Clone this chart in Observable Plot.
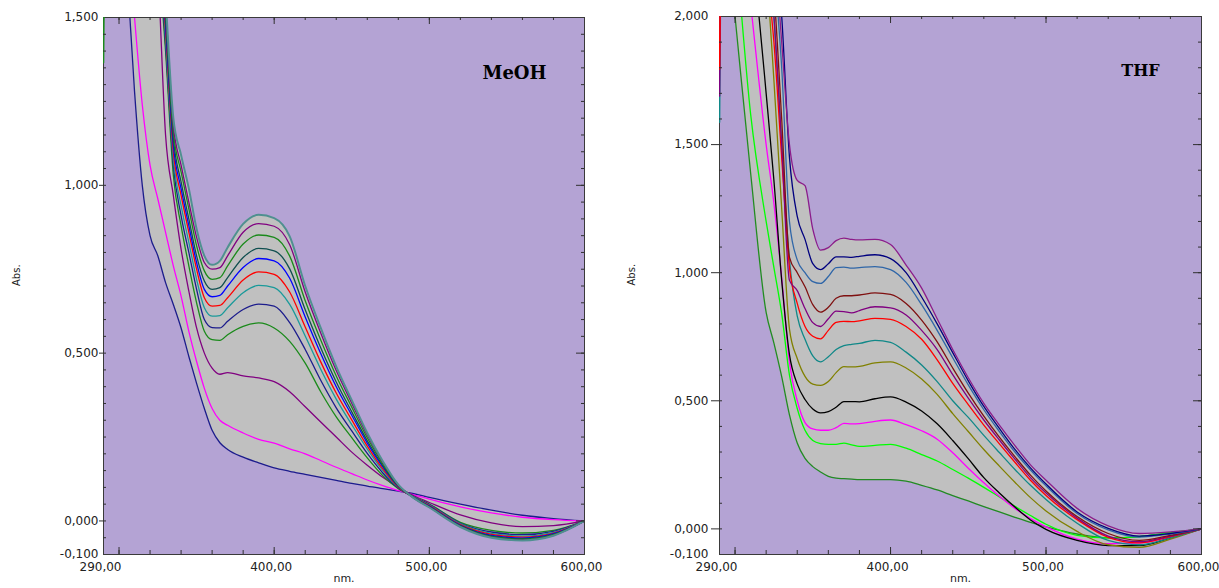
<!DOCTYPE html>
<html><head><meta charset="utf-8">
<script src="https://cdn.jsdelivr.net/npm/d3@7"></script>
<script src="https://cdn.jsdelivr.net/npm/@observablehq/plot@0.6"></script>
<style>
html,body{margin:0;padding:0;background:#fff;}
#wrap{position:relative;width:1219px;height:588px;overflow:hidden;background:#fff;}
#left{position:absolute;left:0;top:0;}
#right{position:absolute;left:609px;top:0;}
</style></head><body>
<div id="wrap"><div id="left"></div><div id="right"></div></div>
<script>
// ---------- MeOH panel data ----------
const wlMeOH = [290, 300, 305, 310, 315, 320, 325, 330, 335, 340, 345, 350, 355, 360, 365, 370, 380, 390, 400, 410, 420, 430, 440, 450, 460, 470, 480, 490, 500, 520, 540, 560, 580, 600];
const meohNavy    = [2.50, 1.95, 1.65, 1.28, 1.00, 0.85, 0.79, 0.71, 0.645, 0.575, 0.49, 0.41, 0.335, 0.27, 0.233, 0.213, 0.19, 0.173, 0.158, 0.148, 0.139, 0.13, 0.121, 0.112, 0.104, 0.096, 0.089, 0.081, 0.07, 0.05, 0.032, 0.017, 0.007, 0.0];
const meohMagenta = [2.9, 2.1, 1.8, 1.5, 1.24, 1.06, 0.96, 0.86, 0.76, 0.67, 0.565, 0.475, 0.395, 0.335, 0.30, 0.285, 0.262, 0.243, 0.232, 0.215, 0.20, 0.18, 0.16, 0.141, 0.122, 0.105, 0.09, 0.078, 0.065, 0.042, 0.024, 0.011, 0.004, 0.0];
const meohPurple  = [3.4, 3.0, 2.7, 2.45, 2.2, 1.95, 1.65, 1.15, 0.97, 0.81, 0.685, 0.575, 0.50, 0.455, 0.437, 0.442, 0.432, 0.426, 0.415, 0.385, 0.34, 0.295, 0.25, 0.205, 0.166, 0.13, 0.1, 0.075, 0.055, 0.018, -0.006, -0.017, -0.014, 0.0];
const meohGreen   = [3.5, 3.1, 2.85, 2.6, 2.3, 2.0, 1.72, 1.40, 1.03, 0.88, 0.76, 0.65, 0.565, 0.54, 0.538, 0.555, 0.58, 0.59, 0.575, 0.535, 0.47, 0.385, 0.31, 0.248, 0.188, 0.135, 0.096, 0.072, 0.05, -0.004, -0.028, -0.036, -0.028, 0.0];
const meohNavy2   = [3.55, 3.15, 2.9, 2.65, 2.35, 2.05, 1.75, 1.42, 1.06, 0.91, 0.80, 0.69, 0.60, 0.576, 0.575, 0.595, 0.63, 0.646, 0.64, 0.591, 0.511, 0.419, 0.337, 0.268, 0.201, 0.143, 0.098, 0.071, 0.049, -0.007, -0.033, -0.041, -0.031, 0.0];
const meohTeal    = [3.6, 3.2, 2.95, 2.7, 2.4, 2.1, 1.78, 1.44, 1.08, 0.94, 0.83, 0.72, 0.635, 0.61, 0.612, 0.635, 0.68, 0.702, 0.695, 0.645, 0.551, 0.452, 0.363, 0.287, 0.214, 0.15, 0.1, 0.071, 0.047, -0.009, -0.037, -0.045, -0.034, 0.0];
const meohRed     = [3.65, 3.25, 3.0, 2.75, 2.45, 2.15, 1.8, 1.46, 1.10, 0.97, 0.86, 0.75, 0.665, 0.64, 0.642, 0.665, 0.718, 0.742, 0.735, 0.682, 0.578, 0.474, 0.381, 0.301, 0.223, 0.155, 0.101, 0.07, 0.046, -0.011, -0.04, -0.048, -0.036, 0.0];
const meohBlue    = [3.7, 3.3, 3.05, 2.8, 2.5, 2.2, 1.83, 1.48, 1.12, 0.99, 0.88, 0.77, 0.69, 0.668, 0.672, 0.70, 0.755, 0.782, 0.775, 0.723, 0.608, 0.499, 0.40, 0.315, 0.232, 0.161, 0.103, 0.07, 0.044, -0.013, -0.043, -0.051, -0.038, 0.0];
const meohSlate   = [3.75, 3.35, 3.1, 2.85, 2.55, 2.25, 1.86, 1.50, 1.14, 1.01, 0.90, 0.79, 0.715, 0.69, 0.695, 0.725, 0.785, 0.812, 0.805, 0.751, 0.629, 0.516, 0.414, 0.325, 0.239, 0.165, 0.104, 0.069, 0.043, -0.014, -0.045, -0.053, -0.04, 0.0];
const meohGreen2  = [3.8, 3.4, 3.15, 2.9, 2.6, 2.3, 1.89, 1.52, 1.16, 1.04, 0.93, 0.82, 0.745, 0.72, 0.725, 0.76, 0.825, 0.852, 0.845, 0.789, 0.656, 0.539, 0.432, 0.339, 0.248, 0.17, 0.106, 0.069, 0.042, -0.016, -0.047, -0.055, -0.041, 0.0];
const meohPurple2 = [3.85, 3.45, 3.2, 2.95, 2.65, 2.35, 1.92, 1.54, 1.18, 1.06, 0.95, 0.845, 0.77, 0.75, 0.755, 0.79, 0.86, 0.886, 0.878, 0.823, 0.682, 0.56, 0.448, 0.351, 0.256, 0.175, 0.107, 0.068, 0.041, -0.017, -0.049, -0.057, -0.043, 0.0];
const meohCadet   = [3.9, 3.5, 3.25, 3.0, 2.7, 2.4, 1.95, 1.56, 1.20, 1.09, 0.99, 0.87, 0.79, 0.763, 0.775, 0.815, 0.885, 0.912, 0.902, 0.848, 0.70, 0.575, 0.46, 0.36, 0.262, 0.178, 0.108, 0.068, 0.04, -0.018, -0.05, -0.058, -0.044, 0.0];
const meohColors  = ["#1c1c8c", "#ff00ff", "#800080", "#1a8a1a", "#1c1c8c", "#1a9a9a", "#ff0000", "#0000ff", "#0f4f4f", "#1a8a1a", "#800080", "#4f9090"];
// short traces stuck on the left edge of the frame
const edgeNm = [290, 291];
const meohEdgeGreen = [1.365, 1.9];

// ---------- THF panel data ----------
const wlTHF = [290, 300, 310, 320, 325, 330, 335, 340, 345, 350, 355, 360, 365, 370, 375, 380, 390, 400, 410, 420, 430, 440, 450, 460, 470, 480, 490, 500, 520, 540, 560, 580, 600];
const thfPurple  = [4.0, 3.7, 3.2, 2.6, 2.3, 1.9, 1.5, 1.36, 1.34, 1.17, 1.088, 1.098, 1.125, 1.135, 1.13, 1.128, 1.13, 1.11, 1.03, 0.94, 0.82, 0.70, 0.59, 0.49, 0.405, 0.325, 0.25, 0.19, 0.08, 0.012, -0.018, -0.012, 0.0];
const thfNavy    = [3.9, 3.6, 3.1, 2.6, 2.3, 2.0, 1.45, 1.22, 1.13, 1.035, 1.012, 1.035, 1.062, 1.062, 1.06, 1.064, 1.07, 1.055, 1.0, 0.905, 0.80, 0.688, 0.578, 0.478, 0.392, 0.31, 0.238, 0.175, 0.066, 0.002, -0.028, -0.018, 0.0];
const thfSteel   = [3.8, 3.5, 3.0, 2.5, 2.2, 1.8, 1.2, 1.05, 1.0, 0.965, 0.958, 0.985, 1.02, 1.022, 1.018, 1.02, 1.024, 1.012, 0.962, 0.875, 0.775, 0.668, 0.562, 0.465, 0.38, 0.3, 0.23, 0.168, 0.06, -0.004, -0.032, -0.02, 0.0];
const thfMaroon  = [3.7, 3.4, 2.9, 2.4, 2.1, 1.6, 1.06, 1.0, 0.945, 0.875, 0.846, 0.865, 0.9, 0.91, 0.91, 0.913, 0.921, 0.915, 0.88, 0.815, 0.73, 0.628, 0.53, 0.44, 0.358, 0.282, 0.21, 0.148, 0.048, -0.018, -0.045, -0.025, 0.0];
const thfPurple2 = [3.65, 3.3, 2.8, 2.3, 2.0, 1.5, 0.97, 0.93, 0.86, 0.805, 0.79, 0.82, 0.85, 0.848, 0.843, 0.852, 0.867, 0.863, 0.835, 0.775, 0.70, 0.602, 0.51, 0.425, 0.347, 0.272, 0.2, 0.14, 0.042, -0.028, -0.05, -0.028, 0.0];
const thfRed     = [3.6, 3.2, 2.7, 2.2, 1.9, 1.45, 1.02, 0.88, 0.79, 0.752, 0.742, 0.775, 0.806, 0.81, 0.809, 0.812, 0.822, 0.818, 0.79, 0.74, 0.66, 0.568, 0.485, 0.405, 0.332, 0.26, 0.19, 0.13, 0.036, -0.033, -0.055, -0.03, 0.0];
const thfTeal    = [3.5, 3.4, 2.9, 2.4, 2.0, 1.5, 1.05, 0.83, 0.74, 0.675, 0.652, 0.672, 0.70, 0.715, 0.72, 0.724, 0.736, 0.728, 0.69, 0.64, 0.575, 0.50, 0.435, 0.365, 0.298, 0.232, 0.17, 0.115, 0.022, -0.045, -0.062, -0.035, 0.0];
const thfOlive   = [3.6, 3.2, 2.7, 2.2, 1.75, 1.25, 0.78, 0.665, 0.595, 0.565, 0.56, 0.575, 0.61, 0.633, 0.632, 0.634, 0.648, 0.652, 0.628, 0.585, 0.525, 0.45, 0.38, 0.31, 0.245, 0.182, 0.122, 0.07, -0.01, -0.062, -0.072, -0.04, 0.0];
const thfBlack   = [3.4, 2.9, 2.35, 1.7, 1.36, 0.97, 0.68, 0.565, 0.505, 0.468, 0.453, 0.458, 0.475, 0.497, 0.497, 0.496, 0.508, 0.515, 0.495, 0.46, 0.41, 0.345, 0.274, 0.2, 0.14, 0.085, 0.035, -0.002, -0.045, -0.065, -0.065, -0.035, 0.0];
const thfMagenta = [3.2, 2.6, 2.05, 1.5, 1.27, 0.98, 0.65, 0.5, 0.415, 0.39, 0.385, 0.385, 0.395, 0.412, 0.41, 0.411, 0.42, 0.425, 0.407, 0.383, 0.35, 0.297, 0.237, 0.18, 0.127, 0.08, 0.04, 0.008, -0.04, -0.058, -0.055, -0.03, 0.0];
const thfLime    = [2.9, 2.3, 1.62, 1.2, 1.02, 0.84, 0.6, 0.47, 0.385, 0.345, 0.333, 0.33, 0.33, 0.335, 0.328, 0.322, 0.326, 0.33, 0.315, 0.29, 0.265, 0.232, 0.198, 0.162, 0.125, 0.088, 0.052, 0.018, -0.025, -0.035, -0.03, -0.015, 0.0];
const thfGreen   = [2.6, 2.0, 1.39, 0.845, 0.725, 0.594, 0.445, 0.335, 0.275, 0.243, 0.222, 0.205, 0.198, 0.196, 0.194, 0.192, 0.192, 0.192, 0.186, 0.17, 0.152, 0.13, 0.109, 0.087, 0.066, 0.045, 0.025, 0.008, -0.02, -0.035, -0.03, -0.015, 0.0];
const thfColors  = ["#228b22", "#00ff00", "#ff00ff", "#000000", "#808000", "#108888", "#ff0000", "#800080", "#7f1010", "#2f66a8", "#00007f", "#8b1c8b"];
const thfEdgeRed = [1.795, 2.4];
const thfEdgePurple = [1.69, 2.4];
const thfEdgeTeal = [1.587, 2.4];

// ---------- axis ticks ----------
const xLabels = [290, 400, 500, 600];
const xMajor = [300, 400, 500];
const xMinor = [300, 320, 340, 360, 380, 400, 420, 440, 460, 480, 500, 520, 540, 560, 580];
const yLabelsMeOH = [-0.1, 0, 0.5, 1.0, 1.5];
const yMajorMeOH = [0, 0.5, 1.0];
const yMinorMeOH = [-0.05, 0, 0.05, 0.1, 0.15, 0.2, 0.25, 0.3, 0.35, 0.4, 0.45, 0.5, 0.55, 0.6, 0.65, 0.7, 0.75, 0.8, 0.85, 0.9, 0.95, 1.0, 1.05, 1.1, 1.15, 1.2, 1.25, 1.3, 1.35, 1.4, 1.45];
const yLabelsTHF = [-0.1, 0, 0.5, 1.0, 1.5, 2.0];
const yMajorTHF = [0, 0.5, 1.0, 1.5];
const yMinorTHF = [0, 0.1, 0.2, 0.3, 0.4, 0.5, 0.6, 0.7, 0.8, 0.9, 1.0, 1.1, 1.2, 1.3, 1.4, 1.5, 1.6, 1.7, 1.8, 1.9];

const BG = "#b4a3d4";
const FILL = "#c0c0c0";
const AX = "#303030";
const fmtY = d => d.toFixed(3).replace(".", ",");
const fmtX = d => d.toFixed(2).replace(".", ",");

function panel(cfg) {
  const {wl, series, colors, widths, edges, yDomain, yLabels, yMajor, yMinor, width, mL, mR, mT, mB,
         title, titleDx, titleDy, titleSize, outTick, labelPad, absDx} = cfg;
  const W = width - mL - mR, H = 588 - mT - mB;
  const env = wl.map((nm, j) => ({nm, lo: d3.min(series, s => s[j]), hi: d3.max(series, s => s[j])}));
  const marks = [
    Plot.frame({fill: BG}),
    Plot.areaY(env, {x: "nm", y1: "lo", y2: "hi", fill: FILL, curve: "monotone-x", clip: true}),
    ...series.map((s, i) => Plot.line(wl.map((nm, j) => ({nm, A: s[j]})),
      {x: "nm", y: "A", stroke: colors[i], strokeWidth: widths ? widths[i] : 1.3, curve: "monotone-x", clip: true})),
    Plot.frame({stroke: "#3a3a3a", strokeWidth: 1}),
    ...edges.map(e => Plot.line(edgeNm.map((nm, j) => ({nm, A: e.v[j]})),
      {x: "nm", y: "A", stroke: e.c, strokeWidth: 1.6, clip: true})),
    // bottom & top ticks (inward)
    Plot.tickX(xMinor, {x: d => d, insetTop: H - 4, stroke: AX}),
    Plot.tickX(xMajor, {x: d => d, insetTop: H - 7, stroke: AX}),
    Plot.tickX(xMinor, {x: d => d, insetBottom: H - 3, stroke: AX}),
    Plot.tickX(xMajor, {x: d => d, insetBottom: H - 7, stroke: AX}),
    // left ticks: minor inward, major outward
    Plot.tickY(yMinor, {y: d => d, insetRight: W - 3, stroke: AX}),
    Plot.tickY(yMajor, {y: d => d, insetLeft: -outTick, insetRight: W, stroke: AX}),
    // right ticks inward
    Plot.tickY(yMinor, {y: d => d, insetLeft: W - 3, stroke: AX}),
    Plot.tickY(yMajor, {y: d => d, insetLeft: W - 8, stroke: AX}),
    // tick labels
    Plot.text(yLabels, {y: d => d, text: fmtY, frameAnchor: "left", textAnchor: "end", dx: -labelPad, fontSize: 12}),
    Plot.text(xLabels, {x: d => d, text: fmtX, frameAnchor: "bottom", lineAnchor: "top", dy: 8, dx: -3, fontSize: 12}),
    Plot.text(["Abs."], {text: d => d, frameAnchor: "left", rotate: -90, dx: absDx, fontSize: 10}),
    Plot.text(["nm."], {text: d => d, frameAnchor: "bottom", dy: 27, fontSize: 11}),
    Plot.text([title], {text: d => d, frameAnchor: "top-right", textAnchor: "middle", lineAnchor: "middle",
      dx: titleDx, dy: titleDy, fontFamily: "DejaVu Serif, serif", fontWeight: "bold", fontSize: titleSize, fill: "#000"})
  ];
  return Plot.plot({
    width, height: 588, marginLeft: mL, marginRight: mR, marginTop: mT, marginBottom: mB,
    x: {domain: [290, 600], axis: null},
    y: {domain: yDomain, axis: null},
    style: {fontFamily: "DejaVu Sans, sans-serif", fontSize: "12px", color: "#222", background: "white", overflow: "visible"},
    marks
  });
}

document.getElementById("left").appendChild(panel({
  wl: wlMeOH,
  series: [meohNavy, meohMagenta, meohPurple, meohGreen, meohNavy2, meohTeal, meohRed, meohBlue, meohSlate, meohGreen2, meohPurple2, meohCadet],
  colors: meohColors,
  widths: [1.3, 1.3, 1.3, 1.3, 1.3, 1.3, 1.3, 1.3, 1.3, 1.3, 1.3, 2],
  edges: [{v: meohEdgeGreen, c: "#1a8a1a"}],
  yDomain: [-0.1, 1.5], yLabels: yLabelsMeOH, yMajor: yMajorMeOH, yMinor: yMinorMeOH,
  width: 609, mL: 103, mR: 25, mT: 17, mB: 34,
  title: "MeOH", titleDx: -70, titleDy: 56, titleSize: 18, outTick: 4, labelPad: 5, absDx: -87
}));
document.getElementById("right").appendChild(panel({
  wl: wlTHF,
  series: [thfGreen, thfLime, thfMagenta, thfBlack, thfOlive, thfTeal, thfRed, thfPurple2, thfMaroon, thfSteel, thfNavy, thfPurple],
  colors: thfColors,
  edges: [{v: thfEdgeTeal, c: "#108888"}, {v: thfEdgePurple, c: "#800080"}, {v: thfEdgeRed, c: "#ff0000"}],
  yDomain: [-0.1, 2.0], yLabels: yLabelsTHF, yMajor: yMajorTHF, yMinor: yMinorTHF,
  width: 610, mL: 110, mR: 18, mT: 16, mB: 34,
  title: "THF", titleDx: -61, titleDy: 54, titleSize: 16, outTick: 8, labelPad: 11, absDx: -88
}));
</script></body></html>
